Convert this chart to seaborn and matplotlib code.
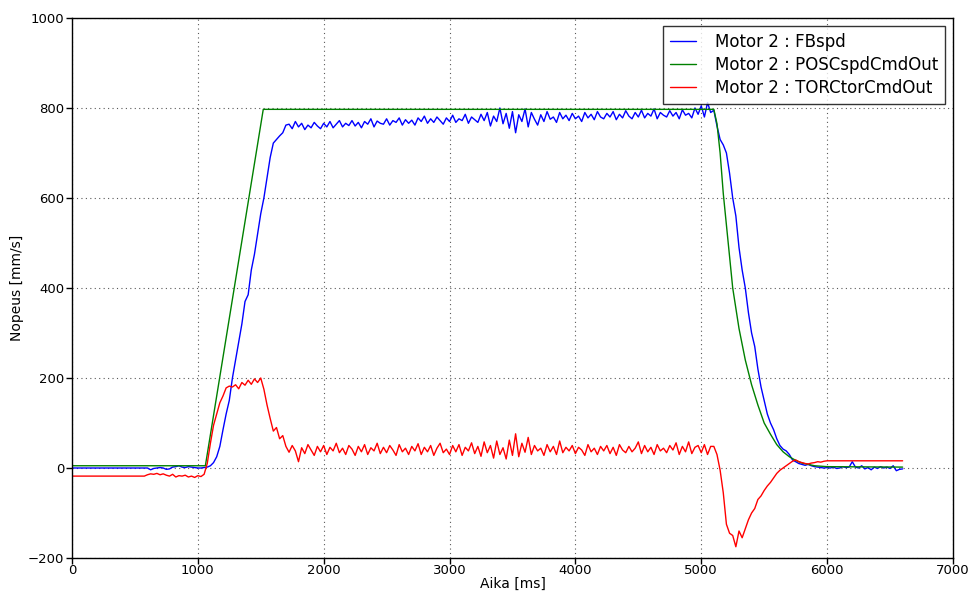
import numpy as np
import pandas as pd
import matplotlib
matplotlib.use("Agg")
import matplotlib.pyplot as plt
import seaborn as sns

# ---- data ----
time_ms = np.arange(0, 6601, 25)  # sample times of FBspd / TORCtorCmdOut

fb_spd = [
    # 0 .. 600
    0, 0, 0, 0, 0, 0, 0, 0, 0, 0, 0, 0, 0, 0, 0, 0, 0, 0, 0, 0, 0, 0, 0, 0, 0,
    # 625 .. 1000
    -4, -1, 0, 1, 0, -3, -2, 2, 3, 5, 2, 1, 3, 2, 1, 0,
    # 1025 .. 1700
    0, 1, 2, 5, 12, 25, 48, 85, 120, 150, 200, 240, 280, 320, 370, 385, 440, 475,
    520, 565, 600, 645, 690, 722, 730, 738, 745, 762,
    # 1725 .. 5075
    764, 754, 770, 758, 766, 752, 762, 756, 768, 760,
    754, 766, 758, 770, 756, 764, 772, 758, 766, 761,
    772, 760, 768, 756, 770, 764, 776, 758, 771, 766,
    764, 776, 762, 772, 768, 778, 762, 774, 766, 773,
    762, 778, 770, 782, 766, 776, 768, 780, 772, 764,
    778, 770, 784, 768, 776, 772, 786, 766, 780, 774,
    768, 786, 772, 790, 760, 782, 770, 800, 765, 788,
    755, 792, 745, 785, 770, 798, 758, 790, 775, 762,
    785, 770, 792, 775, 780, 768, 790, 776, 784, 772,
    788, 776, 782, 770, 790, 778, 786, 774, 792, 780,
    776, 788, 780, 792, 774, 786, 778, 794, 782, 776,
    790, 780, 795, 778, 788, 782, 798, 776, 790, 784,
    780, 794, 782, 790, 776, 796, 784, 788, 778, 800,
    786, 805, 780, 812, 790,
    # 5100 .. 5975
    795, 760, 730, 718, 700, 655, 600, 560, 490, 440, 400, 345, 300, 270, 220, 180,
    150, 120, 100, 85, 65, 50, 42, 38, 30, 18, 14, 10, 8, 6, 8, 5, 3, 2, 1, 0,
    # 6000 .. 6600
    1, 0, 2, -1, 0, 3, 1, 2, 14, 2, 0, 5, -2, 1, -4, 2, -1, 3, 0, 2, -1, 5, -6, -3, -2,
]

tor_cmd = [
    # 0 .. 575
    -18, -18, -18, -18, -18, -18, -18, -18, -18, -18, -18, -18,
    -18, -18, -18, -18, -18, -18, -18, -18, -18, -18, -18, -18,
    # 600 .. 1050
    -15, -13, -14, -12, -15, -13, -16, -18, -14, -20, -17, -18, -16, -20, -18, -21,
    -17, -19, -14,
    # 1075 .. 1700
    10, 55, 95, 120, 145, 160, 178, 182, 180, 185, 176, 190, 184, 195, 186, 198, 190,
    200, 175, 140, 110, 82, 90, 65, 72, 48,
    # 1725 .. 5075
    35, 50, 38, 14, 45, 32, 52, 40, 28, 48,
    36, 50, 30, 46, 38, 55, 34, 44, 30, 50,
    42, 28, 48, 36, 52, 30, 45, 38, 55, 32,
    46, 34, 50, 40, 28, 52, 36, 44, 30, 48,
    38, 54, 30, 46, 36, 50, 28, 44, 55, 34,
    42, 30, 50, 36, 52, 28, 46, 38, 56, 32,
    48, 26, 58, 34, 50, 22, 60, 30, 45, 20,
    62, 28, 76, 25, 55, 35, 68, 30, 50, 38,
    44, 28, 52, 36, 48, 30, 60, 34, 46, 38,
    50, 32, 46, 40, 28, 52, 36, 44, 30, 48,
    38, 50, 32, 46, 28, 52, 40, 34, 48, 36,
    44, 58, 32, 50, 36, 46, 30, 52, 38, 44,
    34, 50, 40, 56, 30, 48, 36, 58, 32, 46,
    50, 34, 52, 30, 48,
    # 5100 .. 5975
    48, 30, -5, -55, -125, -145, -150, -175, -140, -155, -135, -115, -100, -90, -70,
    -62, -50, -40, -32, -22, -12, -5, 0, 5, 10, 15, 18, 14, 12, 10, 9, 11, 12, 14,
    13, 15,
    # 6000 .. 6600
    16, 16, 16, 16, 16, 16, 16, 16, 16, 16, 16, 16, 16, 16, 16, 16, 16, 16, 16, 16,
    16, 16, 16, 16, 16,
]

posc_time = [0, 1060, 1520, 5100, 5125, 5150, 5175, 5200, 5250, 5300, 5350, 5400,
             5450, 5500, 5550, 5600, 5650, 5700, 5750, 5800, 5900, 6000, 6600]
posc_cmd = [5, 5, 797, 797, 765, 700, 610, 540, 400, 310, 240, 185,
            140, 100, 75, 52, 36, 25, 17, 11, 5, 3, 2]

labels = ["Motor 2 : FBspd", "Motor 2 : POSCspdCmdOut", "Motor 2 : TORCtorCmdOut"]
x_ticks = [0, 1000, 2000, 3000, 4000, 5000, 6000, 7000]
y_ticks = [-200, 0, 200, 400, 600, 800, 1000]

# ---- plot ----
sns.set_style("white")
plt.rcParams["font.family"] = ["DejaVu Sans"]
plt.rcParams["text.color"] = "black"
plt.rcParams["axes.labelcolor"] = "black"
plt.rcParams["xtick.color"] = "black"
plt.rcParams["ytick.color"] = "black"

fig = plt.figure(figsize=(9.75, 5.94), dpi=100, facecolor="white")
ax = fig.add_axes([0.0738, 0.0606, 0.9036, 0.9091])

df_fb = pd.DataFrame({"t": time_ms, "v": fb_spd})
df_tor = pd.DataFrame({"t": time_ms, "v": tor_cmd})
df_pos = pd.DataFrame({"t": posc_time, "v": posc_cmd})

sns.lineplot(data=df_fb, x="t", y="v", ax=ax, color=(0, 0, 1), lw=1.0,
             estimator=None, sort=False, label=labels[0])
sns.lineplot(data=df_pos, x="t", y="v", ax=ax, color=(0, 0.5, 0), lw=1.0,
             estimator=None, sort=False, label=labels[1])
sns.lineplot(data=df_tor, x="t", y="v", ax=ax, color=(1, 0, 0), lw=1.0,
             estimator=None, sort=False, label=labels[2])

ax.set_xlim(0, 7000)
ax.set_ylim(-200, 1000)
ax.set_xticks(x_ticks)
ax.set_yticks(y_ticks)
ax.set_yticklabels(["\u2212200" if v < 0 else str(v) for v in y_ticks])
ax.tick_params(axis="y", labelsize=9.5, direction="out", length=4, width=1,
               color="black", labelcolor="black", left=True, pad=1.5)
ax.tick_params(axis="x", labelsize=9.5, direction="out", length=4, width=1,
               color="black", labelcolor="black", bottom=True, pad=0)
ax.grid(True, linestyle=(0, (1, 3)), color="0.35", linewidth=0.8)
for s in ax.spines.values():
    s.set_visible(True)
    s.set_color("black")
    s.set_linewidth(1.0)

ax.set_xlabel("Aika [ms]", fontsize=10, color="black")
ax.set_ylabel("Nopeus [mm/s]", fontsize=10, color="black")
ax.xaxis.set_label_coords(0.5, -0.034)
ax.yaxis.set_label_coords(-0.054, 0.5)

leg = ax.legend(loc="upper right", fontsize=12, frameon=True, fancybox=False,
                handlelength=1.6, handletextpad=1.1, borderpad=0.4,
                labelspacing=0.3, borderaxespad=0.5)
leg.get_frame().set_edgecolor("black")
leg.get_frame().set_linewidth(1.0)
for txt in leg.get_texts():
    txt.set_color("black")

fig.savefig("out.png", dpi=100, facecolor="white")
